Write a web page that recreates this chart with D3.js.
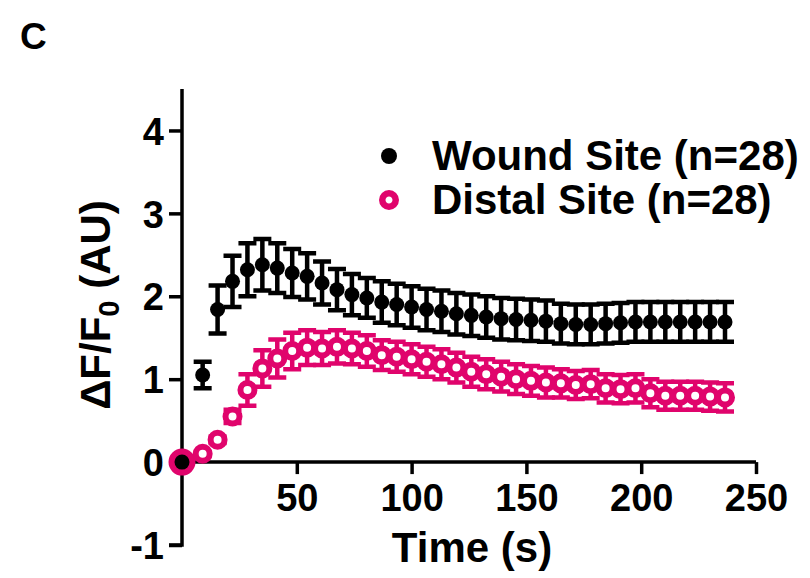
<!DOCTYPE html>
<html>
<head>
<meta charset="utf-8">
<script src="https://cdn.jsdelivr.net/npm/d3@7"></script>
<style>
  body { margin: 0; background: #fff; }
  text { font-family: 'Liberation Sans', Arial, sans-serif; font-weight: bold; fill: #000; }
</style>
</head>
<body>
<div id="chart"></div>
<script>
const WIDTH = 810
const HEIGHT = 578
const PINK = '#e0046c'

// time points (s)
const TIMES = [0, 9, 15.5, 22, 28.5, 35, 41.5, 48, 54.5, 61, 67.5, 74, 80.5, 87, 93.5,
  100, 106.5, 113, 119.5, 126, 132.5, 139, 145.5, 152, 158.5, 165, 171.5, 178,
  184.5, 191, 197.5, 204, 210.5, 217, 223.5, 230, 236.5]

// wound site mean and error
const WOUND = [0, 1.05, 1.84, 2.18, 2.32, 2.38, 2.34, 2.28, 2.24, 2.16, 2.08, 2.02, 1.98,
  1.93, 1.90, 1.87, 1.84, 1.82, 1.79, 1.77, 1.75, 1.73, 1.72, 1.71, 1.70, 1.67, 1.66,
  1.66, 1.67, 1.68, 1.69, 1.69, 1.69, 1.69, 1.69, 1.69, 1.69]
const WOUND_ERR = [0, 0.16, 0.29, 0.31, 0.32, 0.31, 0.30, 0.29, 0.28, 0.26, 0.25, 0.25, 0.24,
  0.25, 0.25, 0.25, 0.25, 0.25, 0.25, 0.25, 0.25, 0.25, 0.25, 0.25, 0.25, 0.24, 0.24,
  0.24, 0.24, 0.24, 0.24, 0.24, 0.24, 0.24, 0.24, 0.24, 0.24]

// distal site mean and error
const DISTAL = [0, 0.10, 0.27, 0.55, 0.87, 1.13, 1.25, 1.34, 1.38, 1.37, 1.39, 1.37, 1.34,
  1.29, 1.27, 1.24, 1.21, 1.18, 1.14, 1.09, 1.06, 1.03, 1.00, 0.98, 0.96, 0.95, 0.93,
  0.94, 0.89, 0.88, 0.89, 0.83, 0.80, 0.80, 0.80, 0.79, 0.78]
const DISTAL_ERR = [0, 0.02, 0.04, 0.08, 0.19, 0.22, 0.23, 0.22, 0.21, 0.20, 0.20, 0.19, 0.19,
  0.18, 0.18, 0.18, 0.18, 0.18, 0.18, 0.18, 0.18, 0.18, 0.18, 0.18, 0.18, 0.17, 0.17,
  0.17, 0.17, 0.17, 0.17, 0.17, 0.17, 0.17, 0.17, 0.17, 0.17]

const X_TICKS = [50, 100, 150, 200, 250]
const Y_TICKS = [-1, 0, 1, 2, 3, 4]
const LEGEND = ['Wound Site (n=28)', 'Distal Site (n=28)']

let svg = d3.select('#chart').append('svg')
  .attr('width', WIDTH)
  .attr('height', HEIGHT)

let x = d3.scaleLinear().domain([0, 250]).range([182, 756])
let y = d3.scaleLinear().domain([-1, 4.5]).range([545, 89])

// panel letter
svg.append('text')
  .attr('x', 20).attr('y', 49)
  .style('font-size', '37px')
  .text('C')

// y axis
let yAxis = svg.append('g')
  .attr('transform', 'translate(' + x(0) + ',0)')
  .call(d3.axisLeft(y).tickValues(Y_TICKS).tickSize(13).tickPadding(5).tickFormat((d) => String(d)))
yAxis.select('.domain').attr('d', 'M0,' + y(4.5) + 'V' + y(-1) + 'H-13')
yAxis.selectAll('line, .domain').attr('stroke', '#000').attr('stroke-width', 3.5)
yAxis.selectAll('text').style('font-size', '38px').attr('dy', '0.36em')

// x axis at y = 0
let xAxis = svg.append('g')
  .attr('transform', 'translate(0,' + y(0) + ')')
  .call(d3.axisBottom(x).tickValues(X_TICKS).tickSize(12).tickPadding(10))
xAxis.select('.domain').attr('d', 'M' + x(0) + ',0H' + x(250))
xAxis.selectAll('line, .domain').attr('stroke', '#000').attr('stroke-width', 3.5)
xAxis.selectAll('text').style('font-size', '38px').attr('dy', '0.71em')

svg.append('text')
  .attr('x', 472).attr('y', 562)
  .attr('text-anchor', 'middle')
  .style('font-size', '42px')
  .text('Time (s)')

let ylab = svg.append('text')
  .attr('transform', 'translate(110,305) rotate(-90)')
  .attr('text-anchor', 'middle')
  .style('font-size', '42px')
ylab.append('tspan').text('\u0394F/F')
ylab.append('tspan').attr('dy', 9).style('font-size', '29px').text('0')
ylab.append('tspan').attr('dy', -9).text(' (AU)')

// series
function series(vals, errs, color) {
  return TIMES.map((t, i) => ({ t: t, v: vals[i], e: errs[i], color: color }))
}
let distal = series(DISTAL, DISTAL_ERR, PINK)
let wound = series(WOUND, WOUND_ERR, '#000')

function errorBars(data) {
  let g = svg.append('g')
    .selectAll('g')
    .data(data.filter((d) => d.e > 0.03))
    .enter().append('g')
  g.append('path')
    .attr('d', (d) => 'M' + x(d.t) + ',' + y(d.v + d.e) + 'V' + y(d.v - d.e) +
      'M' + (x(d.t) - 9) + ',' + y(d.v + d.e) + 'h18' +
      'M' + (x(d.t) - 9) + ',' + y(d.v - d.e) + 'h18')
    .attr('stroke', (d) => d.color)
    .attr('stroke-width', 4.5)
    .attr('fill', 'none')
}

errorBars(distal)
svg.append('g').selectAll('circle')
  .data(distal)
  .enter().append('circle')
    .attr('cx', (d) => x(d.t))
    .attr('cy', (d) => y(d.v))
    .attr('r', (d, i) => i === 0 ? 10 : 7)
    .attr('fill', '#fff')
    .attr('stroke', PINK)
    .attr('stroke-width', (d, i) => i === 0 ? 7 : 6)

errorBars(wound)
svg.append('g').selectAll('circle')
  .data(wound)
  .enter().append('circle')
    .attr('cx', (d) => x(d.t))
    .attr('cy', (d) => y(d.v))
    .attr('r', 7.5)
    .attr('fill', '#000')

// legend
let legend = svg.append('g').selectAll('g')
  .data(LEGEND)
  .enter().append('g')
    .attr('transform', (d, i) => 'translate(389,' + (156 + i * 44) + ')')
legend.append('circle')
  .attr('r', (d, i) => i === 0 ? 8 : 6.75)
  .attr('fill', (d, i) => i === 0 ? '#000' : '#fff')
  .attr('stroke', (d, i) => i === 0 ? 'none' : PINK)
  .attr('stroke-width', 6.5)
legend.append('text')
  .attr('x', 43).attr('y', 14)
  .style('font-size', '42px')
  .text((d) => d)
</script>
</body>
</html>
